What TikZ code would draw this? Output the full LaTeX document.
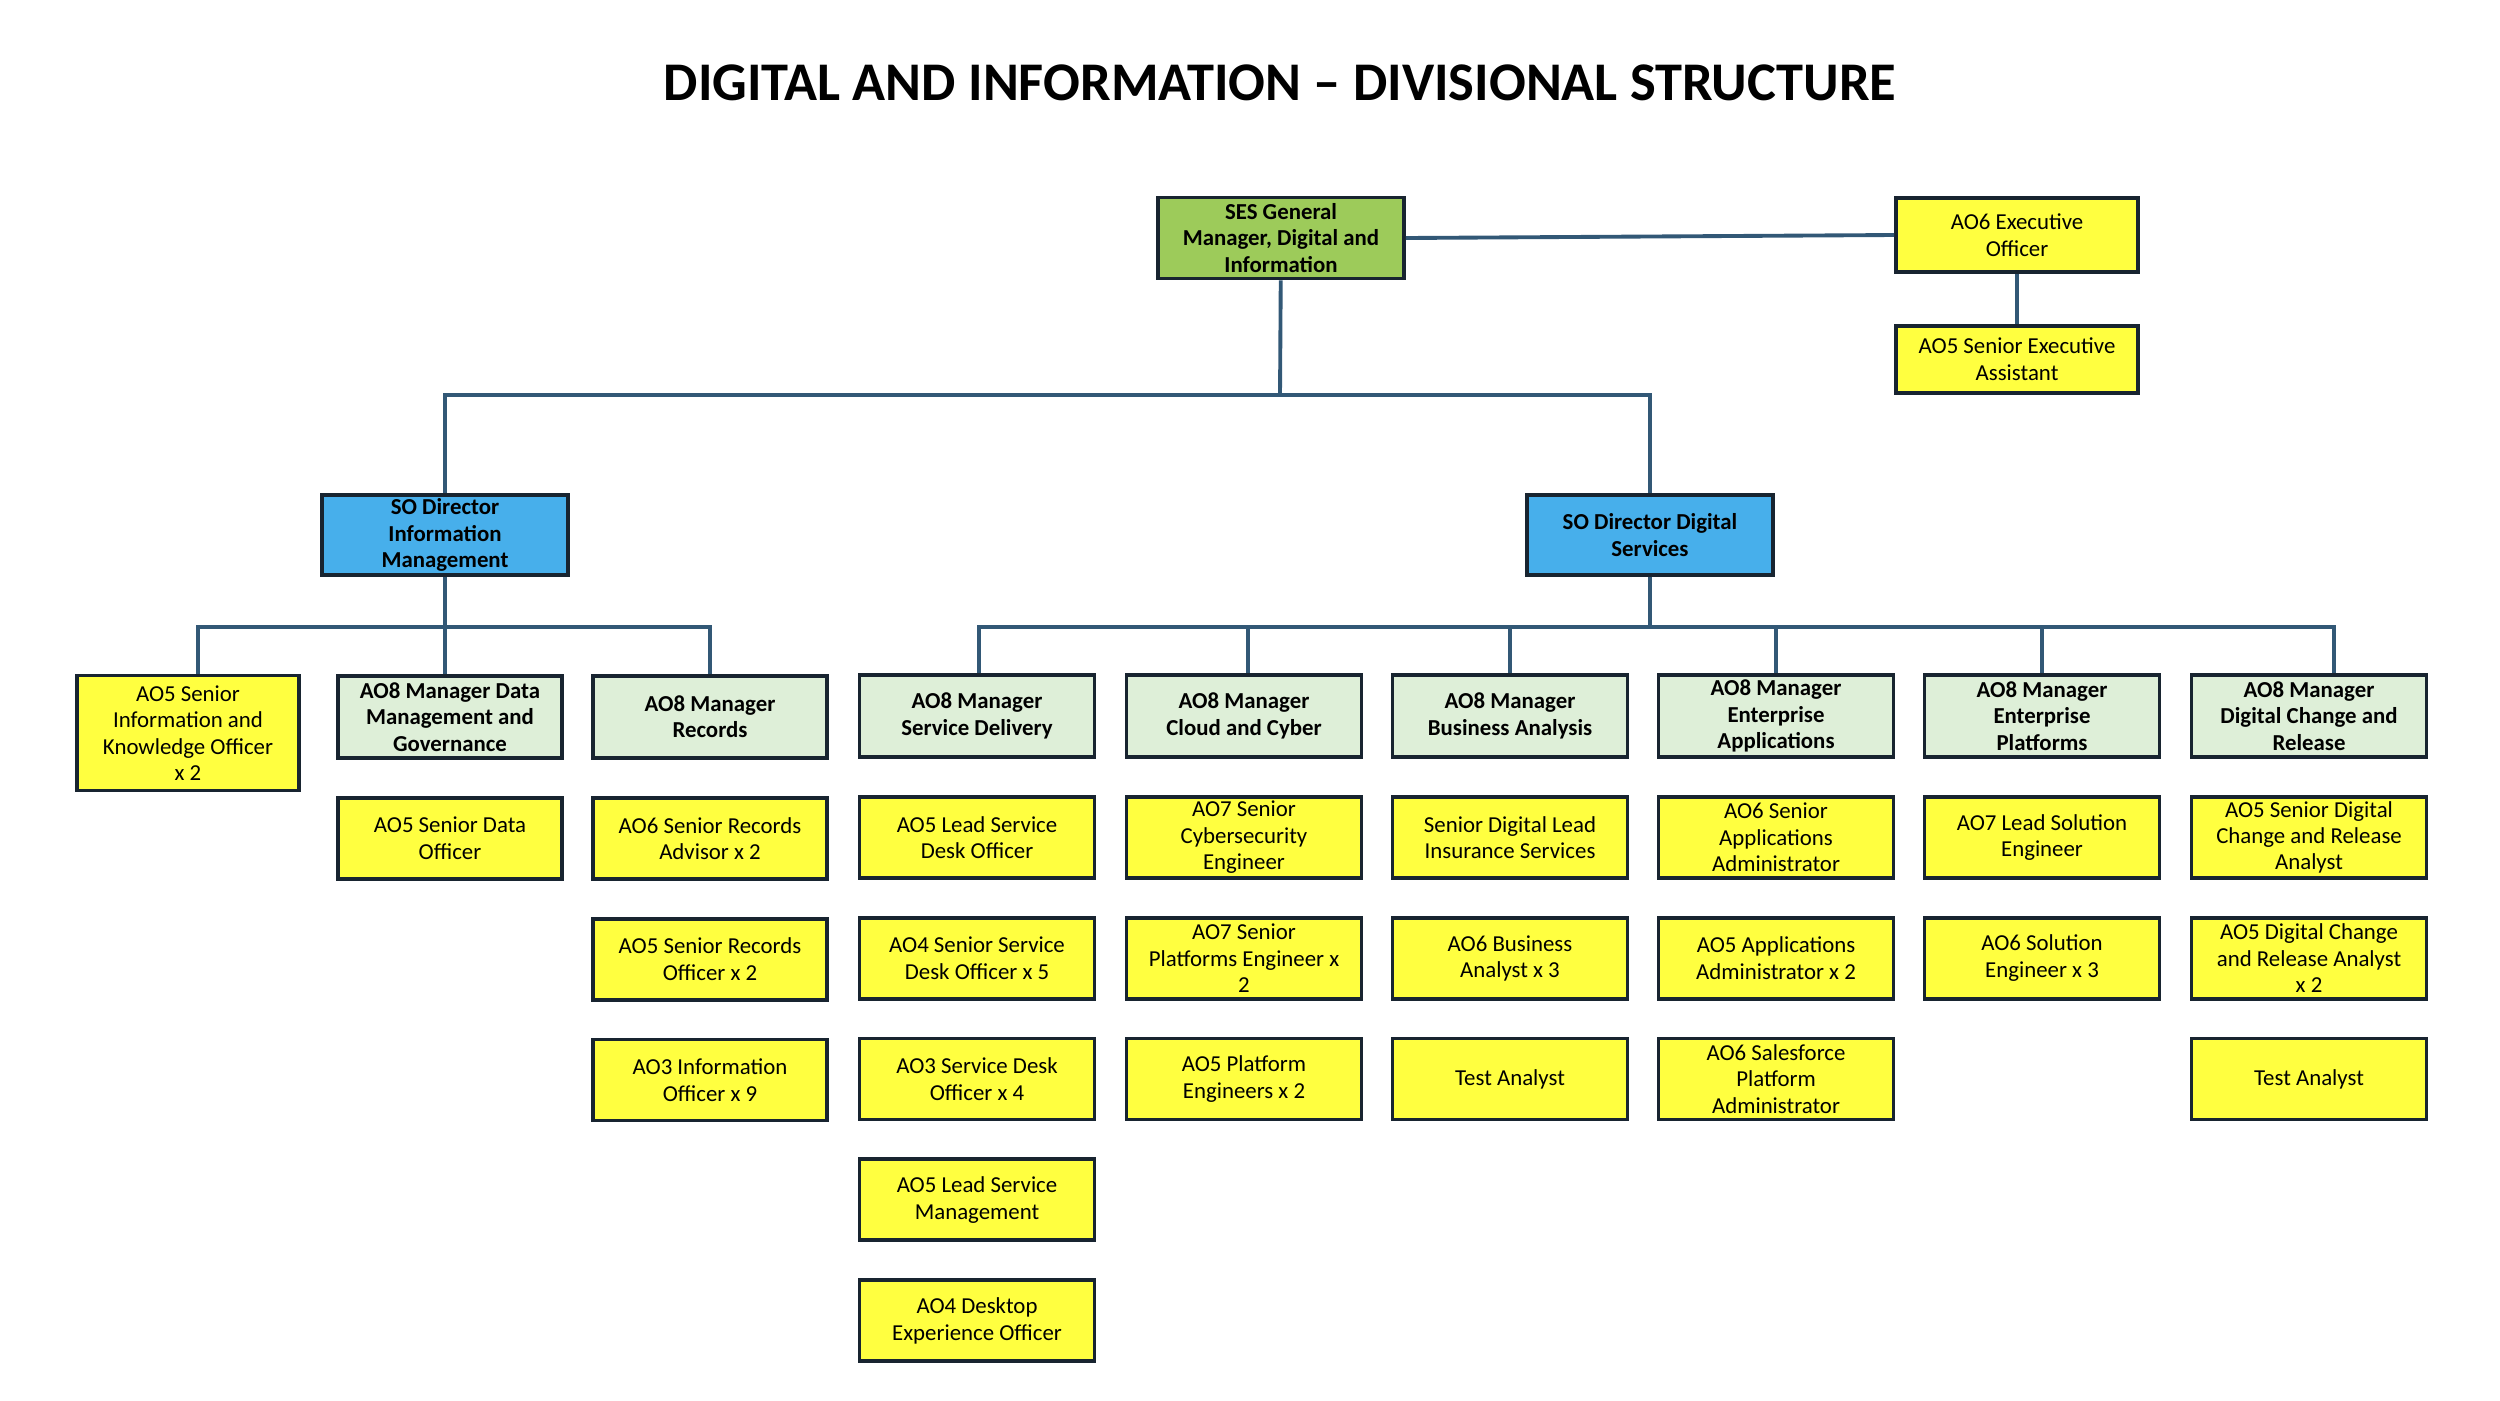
\documentclass[tikz,border=0pt]{standalone}
\definecolor{gmcol}{RGB}{157,203,90}
\definecolor{dircol}{RGB}{71,175,235}
\definecolor{mgrcol}{RGB}{222,239,216}
\definecolor{staffcol}{RGB}{255,255,64}
\definecolor{edgecol}{RGB}{24,36,48}
\definecolor{linkcol}{RGB}{50,88,118}
\usepackage{fontspec}
\setmainfont{Carlito}
\usepackage{tikz}
\usetikzlibrary{positioning}
\tikzset{
  orgbox/.style={draw=edgecol,line width=2.2pt,align=center,inner sep=2pt,font=\fontsize{13}{15}\selectfont},
  topbox/.style={orgbox,fill=gmcol,font=\fontsize{13}{15}\selectfont\bfseries},
  dirbox/.style={orgbox,fill=dircol,font=\fontsize{13}{15}\selectfont\bfseries,minimum width=4.92cm,minimum height=1.6cm},
  mgrbox/.style={orgbox,fill=mgrcol,font=\fontsize{13}{15}\selectfont\bfseries,minimum width=4.7cm,minimum height=1.64cm},
  staffbox/.style={orgbox,fill=staffcol,minimum width=4.7cm,minimum height=1.62cm},
  link/.style={linkcol,line width=2.2pt}
}
\begin{document}
\begin{tikzpicture}[x=0.02cm,y=-0.02cm]
      \useasboundingbox (0,0) rectangle (2500,1400);
      \node[font=\fontsize{31}{36}\selectfont\bfseries] (title) at (1280,83) {DIGITAL AND INFORMATION – DIVISIONAL STRUCTURE};
      % top of the division
      \node[topbox,minimum width=4.92cm,minimum height=1.62cm] (gm) at (1281,238) {SES General\\Manager, Digital and\\Information};
      \node[staffbox,minimum width=4.84cm,minimum height=1.48cm] (exo) at (2017,235) {AO6 Executive\\Officer};
      \node[staffbox,minimum width=4.84cm,minimum height=1.34cm,below=1cm of exo] (sea) {AO5 Senior Executive\\Assistant};
      \node[dirbox] (dirim) at (445,535) {SO Director\\Information\\Management};
      \node[dirbox] (dirds) at (1650,535) {SO Director Digital\\Services};
      % information management
      \node[staffbox,minimum width=4.44cm,minimum height=2.3cm] (kmo) at (188,733) {AO5 Senior\\Information and\\Knowledge Officer\\x 2};
      \node[mgrbox,minimum width=4.48cm] (mdg) at (450,717) {AO8 Manager Data\\Management and\\Governance};
      \node[staffbox,minimum width=4.48cm,below=0.72cm of mdg] (mdg1) {AO5 Senior Data\\Officer};
      \node[mgrbox,minimum width=4.68cm] (mrec) at (710,717) {AO8 Manager\\Records};
      \node[staffbox,minimum width=4.68cm,below=0.72cm of mrec] (mrec1) {AO6 Senior Records\\Advisor x 2};
      \node[staffbox,minimum width=4.68cm,below=0.72cm of mrec1] (mrec2) {AO5 Senior Records\\Officer x 2};
      \node[staffbox,minimum width=4.68cm,below=0.72cm of mrec2] (mrec3) {AO3 Information\\Officer x 9};
      % digital services
      \node[mgrbox] (msd) at (977,716) {AO8 Manager\\Service Delivery};
      \node[staffbox,below=0.72cm of msd] (msd1) {AO5 Lead Service\\Desk Officer};
      \node[staffbox,below=0.72cm of msd1] (msd2) {AO4 Senior Service\\Desk Officer x 5};
      \node[staffbox,below=0.72cm of msd2] (msd3) {AO3 Service Desk\\Officer x 4};
      \node[staffbox,below=0.72cm of msd3] (msd4) {AO5 Lead Service\\Management};
      \node[staffbox,below=0.72cm of msd4] (msd5) {AO4 Desktop\\Experience Officer};
      \node[mgrbox] (mcc) at (1244,716) {AO8 Manager\\Cloud and Cyber};
      \node[staffbox,below=0.72cm of mcc] (mcc1) {AO7 Senior\\Cybersecurity\\Engineer};
      \node[staffbox,below=0.72cm of mcc1] (mcc2) {AO7 Senior\\Platforms Engineer x\\2};
      \node[staffbox,below=0.72cm of mcc2] (mcc3) {AO5 Platform\\Engineers x 2};
      \node[mgrbox] (mba) at (1510,716) {AO8 Manager\\Business Analysis};
      \node[staffbox,below=0.72cm of mba] (mba1) {Senior Digital Lead\\Insurance Services};
      \node[staffbox,below=0.72cm of mba1] (mba2) {AO6 Business\\Analyst x 3};
      \node[staffbox,below=0.72cm of mba2] (mba3) {Test Analyst};
      \node[mgrbox] (mea) at (1776,716) {AO8 Manager\\Enterprise\\Applications};
      \node[staffbox,below=0.72cm of mea] (mea1) {AO6 Senior\\Applications\\Administrator};
      \node[staffbox,below=0.72cm of mea1] (mea2) {AO5 Applications\\Administrator x 2};
      \node[staffbox,below=0.72cm of mea2] (mea3) {AO6 Salesforce\\Platform\\Administrator};
      \node[mgrbox] (mep) at (2042,716) {AO8 Manager\\Enterprise\\Platforms};
      \node[staffbox,below=0.72cm of mep] (mep1) {AO7 Lead Solution\\Engineer};
      \node[staffbox,below=0.72cm of mep1] (mep2) {AO6 Solution\\Engineer x 3};
      \node[mgrbox] (mdc) at (2309,716) {AO8 Manager\\Digital Change and\\Release};
      \node[staffbox,below=0.72cm of mdc] (mdc1) {AO5 Senior Digital\\Change and Release\\Analyst};
      \node[staffbox,below=0.72cm of mdc1] (mdc2) {AO5 Digital Change\\and Release Analyst\\x 2};
      \node[staffbox,below=0.72cm of mdc2] (mdc3) {Test Analyst};
      % connectors
      \coordinate (topbus) at (1280,395);
      \coordinate (imbus) at (445,627);
      \coordinate (dsbus) at (1650,627);
      \draw[link] (gm.east) -- (exo.west);
      \draw[link] (exo) -- (sea);
      \draw[link] (gm) -- (topbus);
      \draw[link] (topbus) -| (dirim.north);
      \draw[link] (topbus) -| (dirds.north);
      \draw[link] (dirim) -- (imbus);
      \draw[link] (imbus) -| ([xshift=0.2cm]kmo.north);
      \draw[link] (imbus) -| ([xshift=-0.1cm]mdg.north);
      \draw[link] (imbus) -| (mrec.north);
      \draw[link] (dirds) -- (dsbus);
      \draw[link] (dsbus) -| ([xshift=0.04cm]msd.north);
      \draw[link] (dsbus) -| ([xshift=0.08cm]mcc.north);
      \draw[link] (dsbus) -| (mba.north);
      \draw[link] (dsbus) -| (mea.north);
      \draw[link] (dsbus) -| (mep.north);
      \draw[link] (dsbus) -| ([xshift=0.5cm]mdc.north);
    \end{tikzpicture}
\end{document}
